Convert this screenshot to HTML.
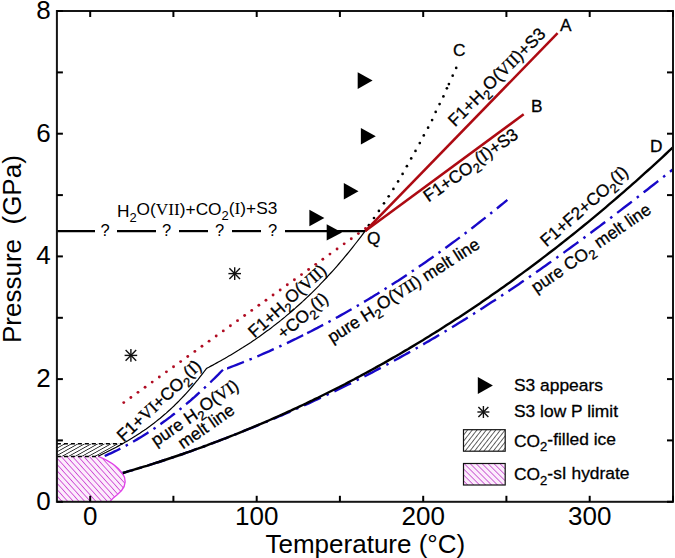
<!DOCTYPE html><html><head><meta charset="utf-8"><style>html,body{margin:0;padding:0;background:#fff;}svg{display:block}</style></head><body>
<svg width="675" height="558" viewBox="0 0 675 558" font-family='"Liberation Sans", sans-serif'>
<defs>
<pattern id="ph" patternUnits="userSpaceOnUse" width="4.2" height="4.2" patternTransform="rotate(-42)"><rect width="4.2" height="4.2" fill="#fcecfc"/><line x1="0" y1="0" x2="0" y2="4.2" stroke="#c428cc" stroke-width="1.4"/></pattern>
<pattern id="bh" patternUnits="userSpaceOnUse" width="3.2" height="3.2" patternTransform="rotate(61)"><line x1="0" y1="0" x2="0" y2="3.2" stroke="#111" stroke-width="1.5"/></pattern>
<pattern id="bh2" patternUnits="userSpaceOnUse" width="3.7" height="3.7" patternTransform="rotate(38)"><line x1="0" y1="0" x2="0" y2="3.7" stroke="#111" stroke-width="1.3"/></pattern>
<pattern id="ph2" patternUnits="userSpaceOnUse" width="4.2" height="4.2" patternTransform="rotate(-45)"><rect width="4.2" height="4.2" fill="#fcecfc"/><line x1="0" y1="0" x2="0" y2="4.2" stroke="#bc32c6" stroke-width="1.4"/></pattern>
</defs>
<path d="M56.9,456.4 L98.3,456.4 C112,462 121,469 124.6,477.6 C126.5,484 123,490 117.5,494.4 C114,497 111.5,499.5 109.7,501.8 L56.9,501.8 Z" fill="url(#ph)" stroke="none"/>
<path d="M98.3,456.4 C112,462 121,469 124.6,477.6 C126.5,484 123,490 117.5,494.4 C114,497 111.5,499.5 109.7,501.8" fill="none" stroke="#e040e8" stroke-width="1.3"/>
<path d="M56.9,443.7 L122.5,443.7 L98.4,456.4 L56.9,456.4 Z" fill="url(#bh)"/>
<line x1="56.9" y1="443.7" x2="122.5" y2="443.7" stroke="#000" stroke-width="1.5" stroke-dasharray="4 3"/>
<line x1="56.9" y1="456.4" x2="98.4" y2="456.4" stroke="#000" stroke-width="1.5" stroke-dasharray="4 3"/>
<path d="M122.8,473.0 L125.8,472.1 L128.8,471.2 L131.8,470.3 L134.8,469.4 L137.8,468.5 L140.8,467.6 L143.8,466.7 L146.8,465.8 L149.8,464.8 L152.8,463.9 L155.8,462.9 L158.8,462.0 L161.8,461.0 L164.8,460.0 L167.8,459.0 L170.8,458.0 L173.8,457.0 L176.8,456.0 L179.8,455.0 L182.8,454.0 L185.8,452.9 L188.8,451.9 L191.8,450.8 L194.8,449.7 L197.8,448.7 L200.8,447.6 L203.8,446.5 L206.8,445.4 L209.8,444.2 L212.8,443.1 L215.8,442.0 L218.8,440.8 L221.8,439.7 L224.8,438.5 L227.8,437.4 L230.8,436.2 L233.8,435.0 L236.8,433.8 L239.8,432.6 L242.8,431.4 L245.8,430.2 L248.8,429.0 L251.8,427.8 L254.8,426.6 L257.8,425.3 L260.8,424.1 L263.8,422.9 L266.8,421.6 L269.8,420.4 L272.8,419.1 L275.8,417.8 L278.8,416.5 L281.8,415.3 L284.8,414.0 L287.8,412.7 L290.8,411.3 L293.8,410.0 L296.8,408.7 L299.8,407.3 L302.8,406.0 L305.8,404.6 L308.8,403.3 L311.8,401.9 L314.8,400.5 L317.8,399.1 L320.8,397.7 L323.8,396.3 L326.8,394.9 L329.8,393.5 L332.8,392.1 L335.8,390.6 L338.8,389.2 L341.8,387.7 L344.8,386.2 L347.8,384.7 L350.8,383.3 L353.8,381.8 L356.8,380.2 L359.8,378.7 L362.8,377.2 L365.8,375.7 L368.8,374.1 L371.8,372.6 L374.8,371.0 L377.8,369.4 L380.8,367.8 L383.8,366.2 L386.8,364.6 L389.8,363.0 L392.8,361.4 L395.8,359.7 L398.8,358.1 L401.8,356.4 L404.8,354.8 L407.8,353.1 L410.8,351.4 L413.8,349.7 L416.8,348.0 L419.8,346.3 L422.8,344.6 L425.8,342.8 L428.8,341.1 L431.8,339.3 L434.8,337.6 L437.8,335.8 L440.8,334.0 L443.8,332.2 L446.8,330.4 L449.8,328.6 L452.8,326.8 L455.8,324.9 L458.8,323.1 L461.8,321.2 L464.8,319.4 L467.8,317.5 L470.8,315.6 L473.8,313.7 L476.8,311.8 L479.8,309.9 L482.8,308.0 L485.8,306.0 L488.8,304.1 L491.8,302.1 L494.8,300.2 L497.8,298.2 L500.8,296.2 L503.8,294.2 L506.8,292.2 L509.8,290.2 L512.8,288.2 L515.8,286.2 L518.8,284.2 L521.8,282.1 L524.8,280.1 L527.8,278.0 L530.8,275.9 L533.8,273.9 L536.8,271.8 L539.8,269.7 L542.8,267.6 L545.8,265.5 L548.8,263.3 L551.8,261.2 L554.8,259.1 L557.8,256.9 L560.8,254.8 L563.8,252.6 L566.8,250.4 L569.8,248.2 L572.8,246.1 L575.8,243.9 L578.8,241.7 L581.8,239.5 L584.8,237.2 L587.8,235.0 L590.8,232.8 L593.8,230.5 L596.8,228.3 L599.8,226.1 L602.8,223.8 L605.8,221.5 L608.8,219.3 L611.8,217.0 L614.8,214.7 L617.8,212.4 L620.8,210.1 L623.8,207.8 L626.8,205.5 L629.8,203.2 L632.8,200.9 L635.8,198.5 L638.8,196.2 L641.8,193.9 L644.8,191.5 L647.8,189.2 L650.8,186.8 L653.8,184.5 L656.8,182.1 L659.8,179.8 L662.8,177.4 L665.8,175.0 L668.8,172.6 L671.8,170.3 L673.2,169.2" fill="none" stroke="#1808c8" stroke-width="2.4" stroke-dasharray="18.5 6.3 2.5 6.2" stroke-dashoffset="7.45"/>
<path d="M104.7,456.0 L106.7,455.1 L108.7,454.2 L110.7,453.3 L112.7,452.4 L114.7,451.4 L116.7,450.5 L118.7,449.5 L120.7,448.5 L122.7,447.4 L124.7,446.4 L126.7,445.3 L128.7,444.2 L130.7,443.1 L132.7,442.0 L134.7,440.8 L136.7,439.6 L138.7,438.4 L140.7,437.2 L142.7,436.0 L144.7,434.7 L146.7,433.5 L148.7,432.2 L150.7,430.9 L152.7,429.5 L154.7,428.2 L156.7,426.8 L158.7,425.4 L160.7,424.0 L162.7,422.5 L164.7,421.1 L166.7,419.6 L168.7,418.1 L170.7,416.6 L172.7,415.0 L174.7,413.5 L176.7,411.9 L178.7,410.3 L180.7,408.7 L182.7,407.1 L184.7,405.4 L186.7,403.7 L188.7,402.0 L190.7,400.3 L192.7,398.5 L194.7,396.8 L196.7,395.0 L198.7,393.2 L200.7,391.4 L202.7,389.5 L204.7,387.7 L206.7,385.8 L208.7,383.9 L210.7,382.0 L212.7,380.0 L214.7,378.1 L216.7,376.1 L218.7,374.1 L220.7,372.0 L222.7,370.0 L224.5,368.1" fill="none" stroke="#1808c8" stroke-width="2.4" stroke-dasharray="18 6 2.5 6" stroke-dashoffset="0.70"/>
<path d="M224.5,368.1 L227.5,368.3 L230.5,367.2 L233.5,366.0 L236.5,364.8 L239.5,363.7 L242.5,362.5 L245.5,361.3 L248.5,360.0 L251.5,358.8 L254.5,357.5 L257.5,356.3 L260.5,355.0 L263.5,353.7 L266.5,352.4 L269.5,351.1 L272.5,349.7 L275.5,348.4 L278.5,347.0 L281.5,345.6 L284.5,344.2 L287.5,342.8 L290.5,341.4 L293.5,339.9 L296.5,338.5 L299.5,337.0 L302.5,335.5 L305.5,334.0" fill="none" stroke="#1808c8" stroke-width="2.4" stroke-dasharray="18 6 2.5 6" stroke-dashoffset="29.90"/>
<path d="M305.5,334.0 L308.5,332.5 L311.5,331.0 L314.5,329.4 L317.5,327.9 L320.5,326.3 L323.5,324.7 L326.5,323.1 L329.5,321.5 L332.5,319.9 L335.5,318.2 L338.5,316.6 L341.5,314.9 L344.5,313.2 L347.5,311.5 L350.5,309.8 L353.5,308.1 L356.5,306.3 L359.5,304.6 L362.5,302.8 L365.5,301.0 L368.5,299.2 L371.5,297.4 L374.5,295.5 L377.5,293.7 L380.5,291.8 L383.5,290.0 L386.5,288.1 L389.5,286.2 L392.5,284.2 L395.5,282.3 L398.5,280.4 L401.5,278.4 L404.5,276.4 L407.5,274.4 L410.5,272.4 L413.5,270.4 L416.5,268.4 L419.5,266.3 L422.5,264.3 L425.5,262.2 L428.5,260.1 L431.5,258.0 L434.5,255.9 L437.5,253.7 L440.5,251.6 L443.5,249.4 L446.5,247.2 L449.5,245.0 L452.5,242.8 L455.5,240.6 L458.5,238.4 L461.5,236.1 L464.5,233.8 L467.5,231.6 L470.5,229.3 L473.5,227.0 L476.5,224.6 L479.5,222.3 L482.5,219.9 L485.5,217.6 L488.5,215.2 L491.5,212.8 L494.5,210.4 L497.5,208.0 L500.5,205.5 L503.5,203.1 L506.5,200.6 L507.3,199.9" fill="none" stroke="#1808c8" stroke-width="2.4" stroke-dasharray="18 6 2.5 6" stroke-dashoffset="30.65"/>
<path d="M122.8,473.0 L125.8,472.1 L128.8,471.2 L131.8,470.3 L134.8,469.4 L137.8,468.5 L140.8,467.6 L143.8,466.7 L146.8,465.8 L149.8,464.8 L152.8,463.9 L155.8,462.9 L158.8,462.0 L161.8,461.0 L164.8,460.0 L167.8,459.0 L170.8,458.0 L173.8,457.0 L176.8,456.0 L179.8,455.0 L182.8,454.0 L185.8,452.9 L188.8,451.9 L191.8,450.8 L194.8,449.7 L197.8,448.7 L200.8,447.6 L203.8,446.5 L206.8,445.4 L209.8,444.2 L212.8,443.1 L215.8,442.0 L218.8,440.8 L221.8,439.7 L224.8,438.5 L227.8,437.4 L230.8,436.2 L233.8,435.0 L236.8,433.8 L239.8,432.6 L242.8,431.4 L245.8,430.1 L248.8,428.9 L251.8,427.7 L254.8,426.4 L257.8,425.1 L260.8,423.9 L263.8,422.6 L266.8,421.3 L269.8,420.0 L272.8,418.7 L275.8,417.3 L278.8,416.0 L281.8,414.7 L284.8,413.3 L287.8,411.9 L290.8,410.6 L293.8,409.2 L296.8,407.8 L299.8,406.4 L302.8,405.0 L305.8,403.6 L308.8,402.1 L311.8,400.7 L314.8,399.2 L317.8,397.8 L320.8,396.3 L323.8,394.8 L326.8,393.3 L329.8,391.8 L332.8,390.3 L335.8,388.8 L338.8,387.3 L341.8,385.7 L344.8,384.2 L347.8,382.6 L350.8,381.0 L353.8,379.5 L356.8,377.9 L359.8,376.3 L362.8,374.6 L365.8,373.0 L368.8,371.4 L371.8,369.7 L374.8,368.1 L377.8,366.4 L380.8,364.7 L383.8,363.1 L386.8,361.4 L389.8,359.6 L392.8,357.9 L395.8,356.2 L398.8,354.5 L401.8,352.7 L404.8,350.9 L407.8,349.2 L410.8,347.4 L413.8,345.6 L416.8,343.8 L419.8,342.0 L422.8,340.2 L425.8,338.3 L428.8,336.5 L431.8,334.6 L434.8,332.7 L437.8,330.9 L440.8,329.0 L443.8,327.1 L446.8,325.1 L449.8,323.2 L452.8,321.3 L455.8,319.3 L458.8,317.4 L461.8,315.4 L464.8,313.4 L467.8,311.4 L470.8,309.4 L473.8,307.4 L476.8,305.4 L479.8,303.4 L482.8,301.3 L485.8,299.2 L488.8,297.2 L491.8,295.1 L494.8,293.0 L497.8,290.9 L500.8,288.8 L503.8,286.7 L506.8,284.5 L509.8,282.4 L512.8,280.2 L515.8,278.0 L518.8,275.8 L521.8,273.6 L524.8,271.4 L527.8,269.2 L530.8,267.0 L533.8,264.7 L536.8,262.5 L539.8,260.2 L542.8,257.9 L545.8,255.6 L548.8,253.3 L551.8,251.0 L554.8,248.7 L557.8,246.4 L560.8,244.0 L563.8,241.6 L566.8,239.3 L569.8,236.9 L572.8,234.5 L575.8,232.1 L578.8,229.6 L581.8,227.2 L584.8,224.8 L587.8,222.3 L590.8,219.8 L593.8,217.4 L596.8,214.9 L599.8,212.3 L602.8,209.8 L605.8,207.3 L608.8,204.7 L611.8,202.2 L614.8,199.6 L617.8,197.0 L620.8,194.4 L623.8,191.8 L626.8,189.2 L629.8,186.6 L632.8,183.9 L635.8,181.3 L638.8,178.6 L641.8,175.9 L644.8,173.2 L647.8,170.5 L650.8,167.8 L653.8,165.1 L656.8,162.3 L659.8,159.6 L662.8,156.8 L665.8,154.0 L668.8,151.2 L671.8,148.4 L673.2,147.1" fill="none" stroke="#000" stroke-width="2.4"/>
<path d="M98.2,456.1 L100.2,455.2 L102.2,454.2 L104.2,453.2 L106.2,452.3 L108.2,451.3 L110.2,450.3 L112.2,449.2 L114.2,448.2 L116.2,447.2 L118.2,446.1 L120.2,445.0 L122.2,443.9 L124.2,442.8 L126.2,441.6 L128.2,440.5 L130.2,439.3 L132.2,438.1 L134.2,436.8 L136.2,435.6 L138.2,434.3 L140.2,433.0 L142.2,431.6 L144.2,430.3 L146.2,428.9 L148.2,427.4 L150.2,426.0 L152.2,424.5 L154.2,423.0 L156.2,421.4 L158.2,419.8 L160.2,418.2 L162.2,416.5 L164.2,414.8 L166.2,413.1 L168.2,411.3 L170.2,409.5 L172.2,407.6 L174.2,405.7 L176.2,403.7 L178.2,401.8 L180.2,399.7 L182.2,397.6 L184.2,395.5 L186.2,393.3 L188.2,391.1 L190.2,388.8 L192.2,386.5 L194.2,384.2 L196.2,381.7 L198.2,379.3 L200.2,376.7 L202.2,374.1 L204.2,371.5 L206.2,368.8 L206.8,368.0" fill="none" stroke="#000" stroke-width="1.2"/>
<path d="M206.8,368.2 L208.8,367.2 L210.8,366.1 L212.8,365.1 L214.8,364.0 L216.8,362.9 L218.8,361.8 L220.8,360.7 L222.8,359.6 L224.8,358.4 L226.8,357.3 L228.8,356.1 L230.8,354.9 L232.8,353.7 L234.8,352.5 L236.8,351.3 L238.8,350.1 L240.8,348.8 L242.8,347.6 L244.8,346.3 L246.8,345.0 L248.8,343.7 L250.8,342.4 L252.8,341.0 L254.8,339.7 L256.8,338.3 L258.8,336.9 L260.8,335.5 L262.8,334.1 L264.8,332.6 L266.8,331.1 L268.8,329.7 L270.8,328.2 L272.8,326.6 L274.8,325.1 L276.8,323.5 L278.8,322.0 L280.8,320.4 L282.8,318.7 L284.8,317.1 L286.8,315.4 L288.8,313.8 L290.8,312.1 L292.8,310.3 L294.8,308.6 L296.8,306.8 L298.8,305.0 L300.8,303.2 L302.8,301.4 L304.8,299.5 L306.8,297.6 L308.8,295.7 L310.8,293.8 L312.8,291.8 L314.8,289.8 L316.8,287.8 L318.8,285.8 L320.8,283.7 L322.8,281.6 L324.8,279.5 L326.8,277.4 L328.8,275.2 L330.8,273.0 L332.8,270.8 L334.8,268.6 L336.8,266.3 L338.8,264.0 L340.8,261.7 L342.8,259.3 L344.8,256.9 L346.8,254.5 L348.8,252.1 L350.8,249.6 L352.8,247.1 L354.8,244.5 L356.8,242.0 L358.8,239.4 L360.8,236.8 L362.8,234.1 L364.8,231.4 L365.2,230.9" fill="none" stroke="#000" stroke-width="1.2"/>
<circle cx="365.50" cy="228.50" r="1.45" fill="#b00c22"/>
<circle cx="358.39" cy="233.62" r="1.45" fill="#b00c22"/>
<circle cx="351.28" cy="238.74" r="1.45" fill="#b00c22"/>
<circle cx="344.17" cy="243.86" r="1.45" fill="#b00c22"/>
<circle cx="337.06" cy="248.98" r="1.45" fill="#b00c22"/>
<circle cx="329.95" cy="254.10" r="1.45" fill="#b00c22"/>
<circle cx="322.84" cy="259.22" r="1.45" fill="#b00c22"/>
<circle cx="315.73" cy="264.34" r="1.45" fill="#b00c22"/>
<circle cx="308.62" cy="269.46" r="1.45" fill="#b00c22"/>
<circle cx="301.51" cy="274.58" r="1.45" fill="#b00c22"/>
<circle cx="294.40" cy="279.70" r="1.45" fill="#b00c22"/>
<circle cx="287.29" cy="284.82" r="1.45" fill="#b00c22"/>
<circle cx="280.18" cy="289.94" r="1.45" fill="#b00c22"/>
<circle cx="273.07" cy="295.06" r="1.45" fill="#b00c22"/>
<circle cx="265.96" cy="300.18" r="1.45" fill="#b00c22"/>
<circle cx="258.85" cy="305.30" r="1.45" fill="#b00c22"/>
<circle cx="251.74" cy="310.42" r="1.45" fill="#b00c22"/>
<circle cx="244.63" cy="315.54" r="1.45" fill="#b00c22"/>
<circle cx="237.52" cy="320.66" r="1.45" fill="#b00c22"/>
<circle cx="230.41" cy="325.78" r="1.45" fill="#b00c22"/>
<circle cx="223.30" cy="330.90" r="1.45" fill="#b00c22"/>
<circle cx="216.19" cy="336.02" r="1.45" fill="#b00c22"/>
<circle cx="209.08" cy="341.14" r="1.45" fill="#b00c22"/>
<circle cx="201.97" cy="346.26" r="1.45" fill="#b00c22"/>
<circle cx="194.86" cy="351.38" r="1.45" fill="#b00c22"/>
<circle cx="187.75" cy="356.50" r="1.45" fill="#b00c22"/>
<circle cx="180.64" cy="361.62" r="1.45" fill="#b00c22"/>
<circle cx="173.53" cy="366.74" r="1.45" fill="#b00c22"/>
<circle cx="166.42" cy="371.86" r="1.45" fill="#b00c22"/>
<circle cx="159.31" cy="376.98" r="1.45" fill="#b00c22"/>
<circle cx="152.20" cy="382.10" r="1.45" fill="#b00c22"/>
<circle cx="145.09" cy="387.22" r="1.45" fill="#b00c22"/>
<circle cx="137.98" cy="392.34" r="1.45" fill="#b00c22"/>
<circle cx="130.87" cy="397.46" r="1.45" fill="#b00c22"/>
<circle cx="123.76" cy="402.58" r="1.45" fill="#b00c22"/>
<circle cx="368.90" cy="225.20" r="1.35" fill="#000"/>
<circle cx="374.00" cy="218.00" r="1.35" fill="#000"/>
<circle cx="378.90" cy="210.90" r="1.35" fill="#000"/>
<circle cx="384.00" cy="203.30" r="1.35" fill="#000"/>
<circle cx="388.70" cy="196.30" r="1.35" fill="#000"/>
<circle cx="393.40" cy="188.90" r="1.35" fill="#000"/>
<circle cx="398.10" cy="181.40" r="1.35" fill="#000"/>
<circle cx="402.60" cy="173.90" r="1.35" fill="#000"/>
<circle cx="406.90" cy="166.20" r="1.35" fill="#000"/>
<circle cx="411.20" cy="158.40" r="1.35" fill="#000"/>
<circle cx="415.50" cy="150.90" r="1.35" fill="#000"/>
<circle cx="419.80" cy="143.10" r="1.35" fill="#000"/>
<circle cx="423.80" cy="135.40" r="1.35" fill="#000"/>
<circle cx="428.10" cy="127.70" r="1.35" fill="#000"/>
<circle cx="432.10" cy="120.10" r="1.35" fill="#000"/>
<circle cx="435.70" cy="111.90" r="1.35" fill="#000"/>
<circle cx="439.60" cy="104.10" r="1.35" fill="#000"/>
<circle cx="443.40" cy="96.40" r="1.35" fill="#000"/>
<circle cx="446.90" cy="88.30" r="1.35" fill="#000"/>
<circle cx="448.90" cy="84.10" r="1.35" fill="#000"/>
<circle cx="452.70" cy="75.70" r="1.35" fill="#000"/>
<circle cx="456.20" cy="67.90" r="1.35" fill="#000"/>
<line x1="365.2" y1="231.1" x2="557.6" y2="33.2" stroke="#ad0a12" stroke-width="2.5"/>
<line x1="365.2" y1="231.1" x2="523.7" y2="114.3" stroke="#ad0a12" stroke-width="2.5"/>
<line x1="56.9" y1="231.1" x2="95.0" y2="231.1" stroke="#000" stroke-width="2.2"/>
<line x1="117.0" y1="231.1" x2="156.0" y2="231.1" stroke="#000" stroke-width="2.2"/>
<line x1="179.0" y1="231.1" x2="208.0" y2="231.1" stroke="#000" stroke-width="2.2"/>
<line x1="232.0" y1="231.1" x2="261.0" y2="231.1" stroke="#000" stroke-width="2.2"/>
<line x1="285.0" y1="231.1" x2="365.2" y2="231.1" stroke="#000" stroke-width="2.2"/>
<text x="105.0" y="235.7" font-size="16.5" text-anchor="middle">?</text>
<text x="166.5" y="235.7" font-size="16.5" text-anchor="middle">?</text>
<text x="219.5" y="235.7" font-size="16.5" text-anchor="middle">?</text>
<text x="272.5" y="235.7" font-size="16.5" text-anchor="middle">?</text>
<path d="M357.7,72.2 L372.6,80.6 L357.7,89.0 Z" fill="#000"/>
<path d="M360.9,128.1 L375.8,136.3 L360.9,144.6 Z" fill="#000"/>
<path d="M343.8,182.9 L358.5,191.2 L343.8,199.4 Z" fill="#000"/>
<path d="M309.4,209.8 L324.4,218.1 L309.4,226.3 Z" fill="#000"/>
<path d="M326.7,224.2 L342.0,232.4 L326.7,240.6 Z" fill="#000"/>
<path d="M477.8,377.0 L492.9,385.5 L477.8,394.0 Z" fill="#000"/>
<line x1="228.4" y1="273.6" x2="241.0" y2="273.6" stroke="#111" stroke-width="1.4"/><line x1="234.7" y1="267.3" x2="234.7" y2="279.9" stroke="#111" stroke-width="1.4"/><line x1="229.4" y1="268.3" x2="240.0" y2="278.9" stroke="#111" stroke-width="1.4"/><line x1="229.4" y1="278.9" x2="240.0" y2="268.3" stroke="#111" stroke-width="1.4"/>
<line x1="124.6" y1="355.4" x2="137.2" y2="355.4" stroke="#111" stroke-width="1.4"/><line x1="130.9" y1="349.1" x2="130.9" y2="361.7" stroke="#111" stroke-width="1.4"/><line x1="125.6" y1="350.1" x2="136.2" y2="360.7" stroke="#111" stroke-width="1.4"/><line x1="125.6" y1="360.7" x2="136.2" y2="350.1" stroke="#111" stroke-width="1.4"/>
<line x1="477.4" y1="412.0" x2="489.4" y2="412.0" stroke="#111" stroke-width="1.4"/><line x1="483.4" y1="406.0" x2="483.4" y2="418.0" stroke="#111" stroke-width="1.4"/><line x1="478.4" y1="407.0" x2="488.4" y2="417.0" stroke="#111" stroke-width="1.4"/><line x1="478.4" y1="417.0" x2="488.4" y2="407.0" stroke="#111" stroke-width="1.4"/>
<text x="116.9" y="217" font-size="17.3">H<tspan font-size="0.75em" dy="0.38em">2</tspan><tspan dy="-0.38em">&#8203;</tspan>O(<tspan font-family='"Liberation Serif", serif'>VII</tspan>)+CO<tspan font-size="0.75em" dy="0.38em">2</tspan><tspan dy="-0.38em">&#8203;</tspan>(<tspan font-family='"Liberation Serif", serif'>I</tspan>)+S3</text>
<g stroke="#000" stroke-width="0.3">
<text transform="translate(455.0,127.5) rotate(-44.6)" font-size="17.3">F1+H<tspan font-size="0.75em" dy="0.33em">2</tspan><tspan dy="-0.33em">&#8203;</tspan>O(<tspan font-family='"Liberation Serif", serif'>VII</tspan>)+S3</text>
<text transform="translate(428.6,202.5) rotate(-35.0)" font-size="17.3">F1+CO<tspan font-size="0.75em" dy="0.33em">2</tspan><tspan dy="-0.33em">&#8203;</tspan>(<tspan font-family='"Liberation Serif", serif'>I</tspan>)+S3</text>
<text transform="translate(254.5,338.6) rotate(-41.4)" font-size="17.3">F1+H<tspan font-size="0.75em" dy="0.33em">2</tspan><tspan dy="-0.33em">&#8203;</tspan>O(<tspan font-family='"Liberation Serif", serif'>VII</tspan>)</text>
<text transform="translate(283.3,339.8) rotate(-39.0)" font-size="17.3">+CO<tspan font-size="0.75em" dy="0.33em">2</tspan><tspan dy="-0.33em">&#8203;</tspan>(<tspan font-family='"Liberation Serif", serif'>I</tspan>)</text>
<text transform="translate(332.2,343.6) rotate(-32.4)" font-size="17.3">pure H<tspan font-size="0.75em" dy="0.33em">2</tspan><tspan dy="-0.33em">&#8203;</tspan>O(<tspan font-family='"Liberation Serif", serif'>VII</tspan>) melt line</text>
<text transform="translate(123.4,442.4) rotate(-42.8)" font-size="17.3">F1+<tspan font-family='"Liberation Serif", serif'>VI</tspan>+CO<tspan font-size="0.75em" dy="0.33em">2</tspan><tspan dy="-0.33em">&#8203;</tspan>(<tspan font-family='"Liberation Serif", serif'>I</tspan>)</text>
<text transform="translate(156.0,446.8) rotate(-34.0)" font-size="17.3">pure H<tspan font-size="0.75em" dy="0.33em">2</tspan><tspan dy="-0.33em">&#8203;</tspan>O(<tspan font-family='"Liberation Serif", serif'>VI</tspan>)</text>
<text transform="translate(183.0,449.6) rotate(-34.8)" font-size="17.3">melt line</text>
<text transform="translate(546.5,247.5) rotate(-41.0)" font-size="17.3">F1+F2+CO<tspan font-size="0.75em" dy="0.33em">2</tspan><tspan dy="-0.33em">&#8203;</tspan>(<tspan font-family='"Liberation Serif", serif'>I</tspan>)</text>
<text transform="translate(536.3,293.5) rotate(-34.4)" font-size="17.3">pure CO<tspan font-size="0.75em" dy="0.33em">2</tspan><tspan dy="-0.33em">&#8203;</tspan> melt line</text>
<text x="367" y="244.2" font-size="17.3">Q</text>
<text x="560" y="30.9" font-size="17.3">A</text>
<text x="531" y="112.2" font-size="17.3">B</text>
<text x="453" y="56.3" font-size="17.3">C</text>
<text x="649.9" y="152" font-size="17.3">D</text>
<text x="514" y="390.8" font-size="17.4">S3 appears</text>
<text x="514" y="416.8" font-size="17.4">S3 low P limit</text>
<rect x="463.5" y="429.7" width="41.7" height="21.5" fill="url(#bh2)" stroke="#111" stroke-width="1.2"/>
<text x="514" y="446.8" font-size="17.4">CO<tspan font-size="0.75em" dy="0.33em">2</tspan><tspan dy="-0.33em">&#8203;</tspan>-filled ice</text>
<rect x="463.5" y="463.5" width="41.7" height="21.5" fill="url(#ph2)" stroke="#111" stroke-width="1.2"/>
<text x="514" y="480.3" font-size="17.4">CO<tspan font-size="0.75em" dy="0.33em">2</tspan><tspan dy="-0.33em">&#8203;</tspan>-sI hydrate</text>
</g>
<rect x="56.9" y="11.0" width="616.1" height="490.8" fill="none" stroke="#151515" stroke-width="2"/>
<line x1="90.2" y1="501.8" x2="90.2" y2="495.8" stroke="#000" stroke-width="2"/>
<line x1="90.2" y1="11.0" x2="90.2" y2="17.0" stroke="#000" stroke-width="2"/>
<line x1="173.4" y1="501.8" x2="173.4" y2="495.8" stroke="#000" stroke-width="2"/>
<line x1="173.4" y1="11.0" x2="173.4" y2="17.0" stroke="#000" stroke-width="2"/>
<line x1="256.7" y1="501.8" x2="256.7" y2="495.8" stroke="#000" stroke-width="2"/>
<line x1="256.7" y1="11.0" x2="256.7" y2="17.0" stroke="#000" stroke-width="2"/>
<line x1="339.9" y1="501.8" x2="339.9" y2="495.8" stroke="#000" stroke-width="2"/>
<line x1="339.9" y1="11.0" x2="339.9" y2="17.0" stroke="#000" stroke-width="2"/>
<line x1="423.2" y1="501.8" x2="423.2" y2="495.8" stroke="#000" stroke-width="2"/>
<line x1="423.2" y1="11.0" x2="423.2" y2="17.0" stroke="#000" stroke-width="2"/>
<line x1="506.4" y1="501.8" x2="506.4" y2="495.8" stroke="#000" stroke-width="2"/>
<line x1="506.4" y1="11.0" x2="506.4" y2="17.0" stroke="#000" stroke-width="2"/>
<line x1="589.7" y1="501.8" x2="589.7" y2="495.8" stroke="#000" stroke-width="2"/>
<line x1="589.7" y1="11.0" x2="589.7" y2="17.0" stroke="#000" stroke-width="2"/>
<line x1="673.0" y1="501.8" x2="673.0" y2="495.8" stroke="#000" stroke-width="2"/>
<line x1="673.0" y1="11.0" x2="673.0" y2="17.0" stroke="#000" stroke-width="2"/>
<line x1="56.9" y1="501.8" x2="62.9" y2="501.8" stroke="#000" stroke-width="2"/>
<line x1="673.0" y1="501.8" x2="667.0" y2="501.8" stroke="#000" stroke-width="2"/>
<line x1="56.9" y1="440.4" x2="62.9" y2="440.4" stroke="#000" stroke-width="2"/>
<line x1="673.0" y1="440.4" x2="667.0" y2="440.4" stroke="#000" stroke-width="2"/>
<line x1="56.9" y1="379.1" x2="62.9" y2="379.1" stroke="#000" stroke-width="2"/>
<line x1="673.0" y1="379.1" x2="667.0" y2="379.1" stroke="#000" stroke-width="2"/>
<line x1="56.9" y1="317.8" x2="62.9" y2="317.8" stroke="#000" stroke-width="2"/>
<line x1="673.0" y1="317.8" x2="667.0" y2="317.8" stroke="#000" stroke-width="2"/>
<line x1="56.9" y1="256.4" x2="62.9" y2="256.4" stroke="#000" stroke-width="2"/>
<line x1="673.0" y1="256.4" x2="667.0" y2="256.4" stroke="#000" stroke-width="2"/>
<line x1="56.9" y1="195.1" x2="62.9" y2="195.1" stroke="#000" stroke-width="2"/>
<line x1="673.0" y1="195.1" x2="667.0" y2="195.1" stroke="#000" stroke-width="2"/>
<line x1="56.9" y1="133.7" x2="62.9" y2="133.7" stroke="#000" stroke-width="2"/>
<line x1="673.0" y1="133.7" x2="667.0" y2="133.7" stroke="#000" stroke-width="2"/>
<line x1="56.9" y1="72.4" x2="62.9" y2="72.4" stroke="#000" stroke-width="2"/>
<line x1="673.0" y1="72.4" x2="667.0" y2="72.4" stroke="#000" stroke-width="2"/>
<line x1="56.9" y1="11.0" x2="62.9" y2="11.0" stroke="#000" stroke-width="2"/>
<line x1="673.0" y1="11.0" x2="667.0" y2="11.0" stroke="#000" stroke-width="2"/>
<text x="90.2" y="525" font-size="26.0" text-anchor="middle">0</text>
<text x="256.7" y="525" font-size="26.0" text-anchor="middle">100</text>
<text x="423.2" y="525" font-size="26.0" text-anchor="middle">200</text>
<text x="589.7" y="525" font-size="26.0" text-anchor="middle">300</text>
<text x="50.7" y="509.8" font-size="26.0" text-anchor="end">0</text>
<text x="50.7" y="387.1" font-size="26.0" text-anchor="end">2</text>
<text x="50.7" y="264.4" font-size="26.0" text-anchor="end">4</text>
<text x="50.7" y="141.7" font-size="26.0" text-anchor="end">6</text>
<text x="50.7" y="19.0" font-size="26.0" text-anchor="end">8</text>
<text x="265.5" y="552.7" font-size="26">Temperature (°C)</text>
<text transform="translate(20.5,343) rotate(-90)" font-size="26">Pressure&#160; (GPa)</text>
</svg></body></html>
